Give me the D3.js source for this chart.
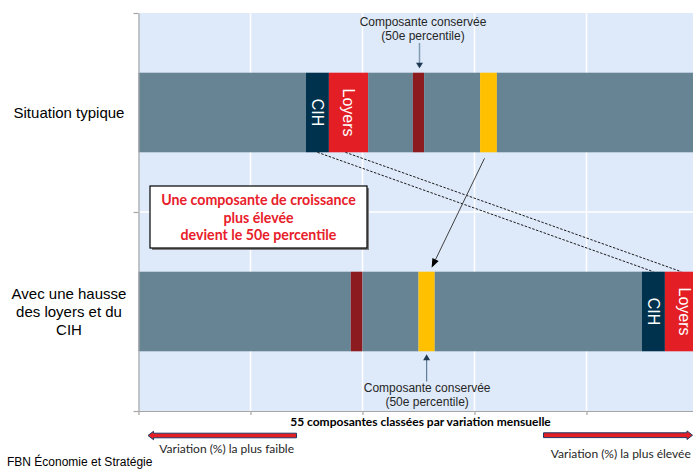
<!DOCTYPE html>
<html><head><meta charset="utf-8">
<script src="https://cdn.jsdelivr.net/npm/d3@7"></script>
<style>body{margin:0;background:#fff}svg{display:block}</style>
</head><body>
<svg id="c" width="693" height="470"></svg>
<script>
// ---------- data ----------
const categories = ["Situation typique", "Avec une hausse des loyers et du CIH"];
const categoryLines = [["Situation typique"], ["Avec une hausse", "des loyers et du", "CIH"]];
const typiqueSegments = ["Autres", "CIH", "Loyers", "Autres", "Médiane initiale", "Autres", "Nouvelle médiane", "Autres"];
const typiqueValues   = [1.495, 0.205, 0.35, 0.40, 0.10, 0.50, 0.15, 1.90];
const hausseSegments  = ["Autres", "Médiane initiale", "Autres", "Nouvelle médiane", "Autres", "CIH", "Loyers"];
const hausseValues    = [1.895, 0.105, 0.50, 0.145, 1.85, 0.205, 0.35];
const xTicks = [0, 1, 2, 3, 4, 5];
const xAxisTitle = "55 composantes classées par variation mensuelle";
const lowLabel = "Variation (%) la plus faible";
const highLabel = "Variation (%) la plus élevée";
const boxLines = ["Une composante de croissance", "plus élevée", "devient le 50e percentile"];
const noteLines = ["Composante conservée", "(50e percentile)"];
const sourceText = "FBN Économie et Stratégie";

// ---------- styles ----------
const colors = {
  "Autres": "#678494",
  "CIH": "#00314D",
  "Loyers": "#E31E25",
  "Médiane initiale": "#8B1B1E",
  "Nouvelle médiane": "#FFC000"
};
const labelled = ["CIH", "Loyers"];

const svg = d3.select("#c");
const L = 138.5, T = 13, B = 411, R = 698.5;

const x = d3.scaleLinear().domain([0, 5]).range([L, R]);
const y = d3.scaleBand().domain(categories).range([T, B]).paddingInner(0.6).paddingOuter(0.3);
const yEdge = d3.scaleLinear().domain([0, categories.length]).range([B, T]);

// build stacked rows
function stack(cat, names, vals) {
  let acc = 0;
  return names.map((n, i) => { const s = { cat, name: n, x0: acc, x1: acc + vals[i] }; acc += vals[i]; return s; });
}
const rows = [
  stack(categories[0], typiqueSegments, typiqueValues),
  stack(categories[1], hausseSegments, hausseValues)
];
const allSegs = rows.flat();

// plot background
svg.append("rect").attr("x", L).attr("y", T).attr("width", R - L).attr("height", B - T).attr("fill", "#DEEAFA");

// gridlines
svg.append("g").selectAll("line").data(xTicks.filter(t => t > 0)).join("line")
  .attr("x1", d => x(d)).attr("x2", d => x(d)).attr("y1", T).attr("y2", B)
  .attr("stroke", "#fff").attr("stroke-width", 1.5);
svg.append("g").selectAll("line").data(d3.range(1, categories.length)).join("line")
  .attr("x1", L).attr("x2", R).attr("y1", d => yEdge(d)).attr("y2", d => yEdge(d))
  .attr("stroke", "#fff").attr("stroke-width", 1.5);

// bars
svg.append("g").selectAll("rect").data(allSegs).join("rect")
  .attr("x", d => x(d.x0)).attr("width", d => x(d.x1) - x(d.x0))
  .attr("y", d => y(d.cat)).attr("height", y.bandwidth())
  .attr("fill", d => colors[d.name]);

// segment labels (rotated)
svg.append("g").selectAll("text").data(allSegs.filter(d => labelled.includes(d.name))).join("text")
  .attr("transform", d => `translate(${(x(d.x0) + x(d.x1)) / 2},${y(d.cat) + y.bandwidth() / 2}) rotate(90)`)
  .attr("text-anchor", "middle").attr("dy", "0.35em")
  .attr("fill", "#fff").style("font-family", "'Liberation Sans', Arial, sans-serif").style("font-size", "16px")
  .text(d => d.name);

// axes
const ax = svg.append("g").attr("transform", `translate(0,${B})`)
  .call(d3.axisBottom(x).tickValues(xTicks).tickFormat("").tickSize(4).tickSizeOuter(0));
const ay = svg.append("g").attr("transform", `translate(${L},0)`)
  .call(d3.axisLeft(yEdge).tickValues(d3.range(0, categories.length + 1)).tickFormat("").tickSize(5).tickSizeOuter(0));
[ax, ay].forEach(g => { g.selectAll("path,line").attr("stroke", "#A6A6A6").attr("stroke-width", 1.2); });

// category labels
categoryLines.forEach((lines, i) => {
  const cy = y(categories[i]) + y.bandwidth() / 2;
  const lh = 18;
  const t = svg.append("text").attr("text-anchor", "middle")
    .style("font-family", "'Liberation Sans', Arial, sans-serif").style("font-size", "15px").attr("fill", "#000");
  lines.forEach((ln, j) => {
    t.append("tspan").attr("x", 69).attr("y", cy + 5 + (j - (lines.length - 1) / 2) * lh).text(ln);
  });
});

// helpers
const findSeg = (ri, name) => rows[ri].find(d => d.name === name);
const cx = d => (x(d.x0) + x(d.x1)) / 2;
const noteFont = "'Liberation Sans', Arial, sans-serif";

// top note
const topMed = findSeg(0, "Médiane initiale");
const tmx = cx(topMed);
const tBarTop = y(categories[0]);
const tn = svg.append("text").attr("text-anchor", "middle").style("font-family", noteFont).style("font-size", "12px").attr("fill", "#262626");
noteLines.forEach((ln, j) => tn.append("tspan").attr("x", tmx + 4.5).attr("y", 25.5 + j * 14).text(ln));
svg.append("line").attr("x1", tmx + 1).attr("x2", tmx + 1).attr("y1", 43).attr("y2", tBarTop - 9)
  .attr("stroke", "#7F9CB3").attr("stroke-width", 1.5);
svg.append("path").attr("d", `M${tmx + 1 - 3.5},${tBarTop - 10} L${tmx + 1 + 3.5},${tBarTop - 10} L${tmx + 1},${tBarTop - 4.5} Z`).attr("fill", "#1F3A52");

// bottom note
const botNew = findSeg(1, "Nouvelle médiane");
const bmx = cx(botNew);
const bBarBot = y(categories[1]) + y.bandwidth();
const bn = svg.append("text").attr("text-anchor", "middle").style("font-family", noteFont).style("font-size", "12px").attr("fill", "#262626");
noteLines.forEach((ln, j) => bn.append("tspan").attr("x", bmx + 0.5).attr("y", 391.5 + j * 14).text(ln));
svg.append("line").attr("x1", bmx).attr("x2", bmx).attr("y1", 381.5).attr("y2", bBarBot + 8)
  .attr("stroke", "#5F7D95").attr("stroke-width", 1.2);
svg.append("path").attr("d", `M${bmx - 3.5},${bBarBot + 9} L${bmx + 3.5},${bBarBot + 9} L${bmx},${bBarBot + 3} Z`).attr("fill", "#1F3A52");

// dashed connectors CIH / Loyers
const tBarBot = y(categories[0]) + y.bandwidth();
const bBarTop = y(categories[1]);
[["CIH", 0.5], ["Loyers", 0.42]].forEach(([nm, f]) => {
  const a = findSeg(0, nm), b = findSeg(1, nm);
  svg.append("line")
    .attr("x1", x(a.x0) + f * (x(a.x1) - x(a.x0))).attr("y1", tBarBot)
    .attr("x2", x(b.x0) + f * (x(b.x1) - x(b.x0))).attr("y2", bBarTop)
    .attr("stroke", "#1a1a1a").attr("stroke-width", 1).attr("stroke-dasharray", "2.5,1.5");
});

// black arrow: yellow top -> yellow bottom
const topNew = findSeg(0, "Nouvelle médiane");
const ax1 = cx(topNew) - 4, ay1 = tBarBot + 6;
const ax2 = cx(botNew) + 5, ay2 = bBarTop - 4;
const ang = Math.atan2(ay2 - ay1, ax2 - ax1);
const hl = 9, hw = 3.5;
const bx = ax2 - hl * Math.cos(ang), by = ay2 - hl * Math.sin(ang);
svg.append("line").attr("x1", ax1).attr("y1", ay1).attr("x2", bx).attr("y2", by).attr("stroke", "#404040").attr("stroke-width", 1);
svg.append("path").attr("d", `M${ax2},${ay2} L${bx - hw * Math.sin(ang)},${by + hw * Math.cos(ang)} L${bx + hw * Math.sin(ang)},${by - hw * Math.cos(ang)} Z`).attr("fill", "#000");

// text box
svg.append("rect").attr("x", 152).attr("y", 188).attr("width", 217).attr("height", 62).attr("fill", "#7f7f7f");
svg.append("rect").attr("x", 150).attr("y", 186).attr("width", 217).attr("height", 62).attr("fill", "#fff").attr("stroke", "#000").attr("stroke-width", 1.2);
const bt = svg.append("text").attr("text-anchor", "middle").style("font-family", "Lato, sans-serif").style("font-weight", "bold").style("font-size", "14.2px").attr("fill", "#E8202A");
boxLines.forEach((ln, j) => bt.append("tspan").attr("x", 258.5).attr("y", 205 + j * 17.5).text(ln));

// axis title
svg.append("text").attr("x", 420.5).attr("y", 425.5).attr("text-anchor", "middle")
  .style("font-family", "Lato, sans-serif").style("font-weight", "bold").style("font-size", "12px").attr("fill", "#000").text(xAxisTitle);

// red direction arrows
const arrowStyle = s => s.attr("fill", "#E31E25").attr("stroke", "#203864").attr("stroke-width", 1);
svg.append("path").attr("d", "M296.5,433.2 L153.5,433.2 L153.5,431.3 L148,435.5 L153.5,439.7 L153.5,437.8 L296.5,437.8 Z").call(arrowStyle);
svg.append("path").attr("d", "M543.5,432.8 L687,432.8 L687,430.9 L692.5,435.2 L687,439.5 L687,437.6 L543.5,437.6 Z").call(arrowStyle);
svg.append("text").attr("x", 226.7).attr("y", 453).attr("text-anchor", "middle")
  .style("font-family", "Lato, sans-serif").style("font-size", "12px").attr("fill", "#262626").text(lowLabel);
svg.append("text").attr("x", 620.8).attr("y", 457.5).attr("text-anchor", "middle")
  .style("font-family", "Lato, sans-serif").style("font-size", "12px").attr("fill", "#262626").text(highLabel);

// source
svg.append("text").attr("x", 7).attr("y", 466).style("font-family", "'Liberation Sans', Arial, sans-serif")
  .style("font-size", "12px").attr("fill", "#000").text(sourceText);
</script>
</body></html>
